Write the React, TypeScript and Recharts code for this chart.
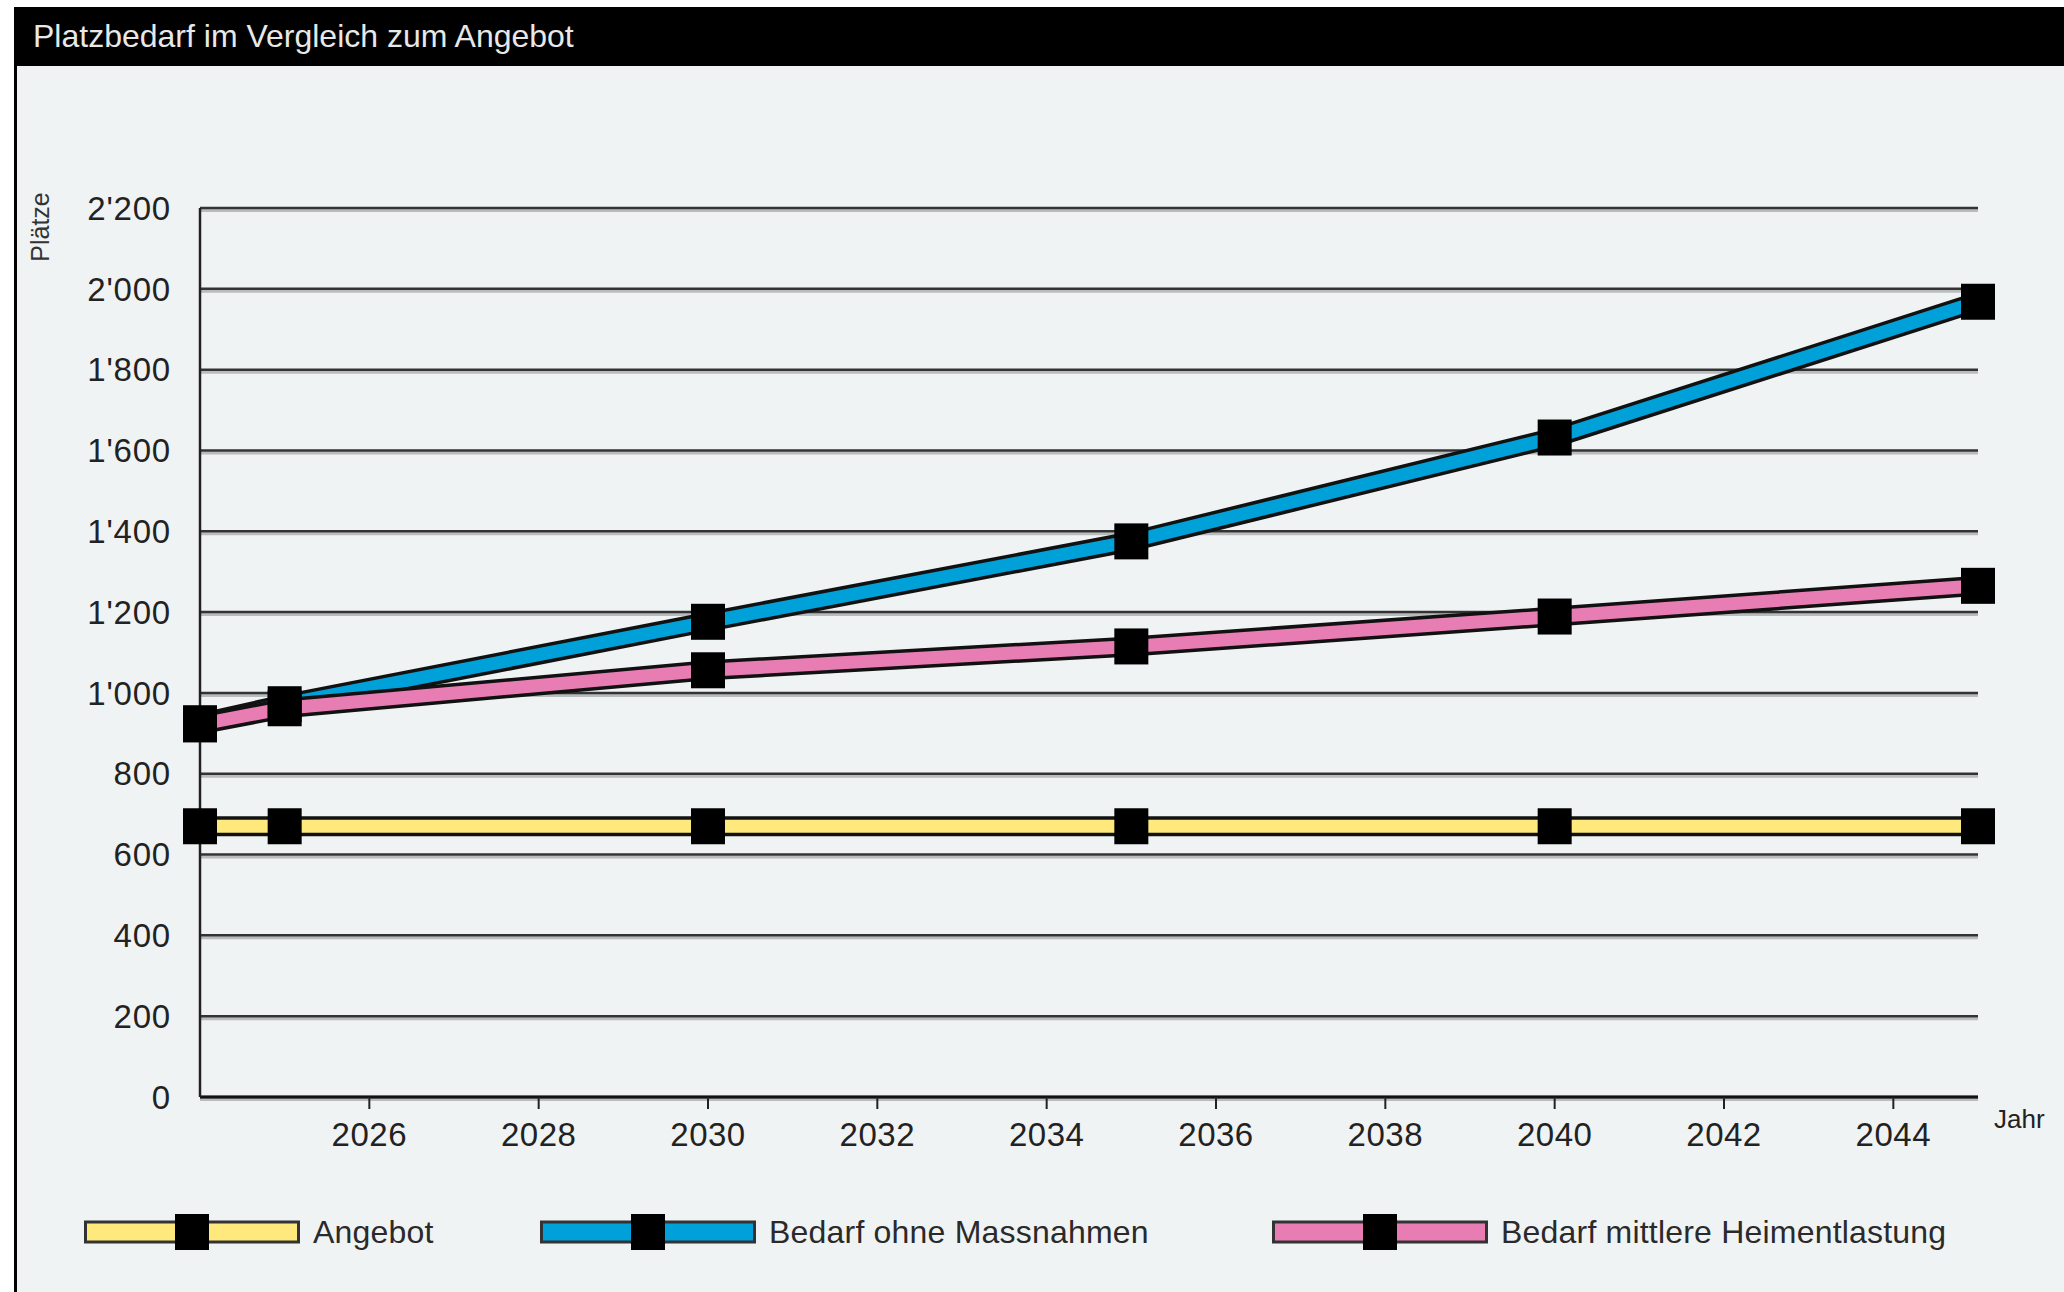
import React from "react";
import {
  LineChart,
  Line,
  XAxis,
  YAxis,
  CartesianGrid,
  Legend,
  Label
} from "recharts";

// values
const years = [2024, 2025, 2030, 2035, 2040, 2045];
const angebot = [670, 670, 670, 670, 670, 670];
const ohneMassnahmen = [925, 972, 1176, 1375, 1632, 1968];
const mittlereEntlastung = [922, 962, 1056, 1115, 1189, 1265];

const xTicks = [2026, 2028, 2030, 2032, 2034, 2036, 2038, 2040, 2042, 2044];
const yTicks = [0, 200, 400, 600, 800, 1000, 1200, 1400, 1600, 1800, 2000, 2200];

const seriesKeys = ["angebot", "ohne", "mittel"];
const seriesNames = ["Angebot", "Bedarf ohne Massnahmen", "Bedarf mittlere Heimentlastung"];
const seriesColors = ["#ffe97c", "#00a0d8", "#e87db4"];

const data = years.map((year, i) => ({
  year,
  angebot: angebot[i],
  ohne: ohneMassnahmen[i],
  mittel: mittlereEntlastung[i]
}));

const FONT = "'Liberation Sans', Arial, sans-serif";

const fmt = (v: number) =>
  v >= 1000 ? `${Math.floor(v / 1000)}'${String(v % 1000).padStart(3, "0")}` : String(v);

const SquareDot = (props: any) => {
  const { cx, cy, index } = props;
  if (cx == null || cy == null) return <g key={index} />;
  return <rect key={index} x={cx - 17} y={cy - 18} width={34} height={36} fill="#000" />;
};

const GridLine = (props: any) => {
  const { x1, x2, y1, index } = props;
  return (
    <g key={`g-${index}-${y1}`}>
      <line x1={x1} x2={x2} y1={y1 + 2.5} y2={y1 + 2.5} stroke="#b8bcbd" strokeWidth={3} />
      <line x1={x1} x2={x2} y1={y1} y2={y1} stroke="#333" strokeWidth={2.5} />
    </g>
  );
};

const itemWidths = [456, 732, undefined];

const LegendRow = () => (
  <div style={{ display: "flex", alignItems: "center", paddingLeft: 84, height: 56 }}>
    {seriesNames.map((name, i) => (
      <div key={name} style={{ display: "flex", alignItems: "center", width: itemWidths[i] }}>
        <svg width={216} height={40} style={{ display: "block" }}>
          <rect x={1.5} y={10} width={213} height={20} fill={seriesColors[i]} stroke="#333" strokeWidth={3} />
          <rect x={91} y={2} width={34} height={36} fill="#000" />
        </svg>
        <span style={{ marginLeft: 13, fontSize: 32, fontFamily: FONT, color: "#2a2a2a", letterSpacing: 0.2 }}>{name}</span>
      </div>
    ))}
  </div>
);

export default function App() {
  return (
    <div style={{ position: "absolute", left: 0, top: 0, width: 2064, height: 1292, background: "#fff", overflow: "hidden" }}>
      <div style={{ position: "absolute", left: 14, top: 66, width: 2050, height: 1226, background: "#f0f3f4" }} />
      <div style={{ position: "absolute", left: 14, top: 7, width: 3, height: 1285, background: "#000" }} />
      <div
        style={{
          position: "absolute",
          left: 14,
          top: 7,
          width: 2050,
          height: 59,
          background: "#000",
          color: "#e8e8e8",
          fontFamily: FONT,
          fontSize: 32,
          lineHeight: "59px",
          paddingLeft: 19,
          boxSizing: "border-box"
        }}
      >
        Platzbedarf im Vergleich zum Angebot
      </div>

      <div style={{ position: "absolute", left: 0, top: 0 }}>
        <LineChart
          width={2064}
          height={1292}
          data={data}
          margin={{ top: 208, right: 86, bottom: 135, left: 80 }}
        >
          <CartesianGrid vertical={false} horizontal={GridLine} />
          <XAxis
            dataKey="year"
            type="number"
            domain={[2024, 2045]}
            ticks={xTicks}
            height={60}
            axisLine={{ stroke: "#111", strokeWidth: 3 }}
            tickLine={{ stroke: "#222", strokeWidth: 2 }}
            tickSize={12}
            tickMargin={14}
            tick={{ fontSize: 33, fill: "#222", fontFamily: FONT, letterSpacing: 0.5 }}
          >
            <Label
              value="Jahr"
              position="right"
              offset={16}
              style={{ fontSize: 26, fill: "#222", fontFamily: FONT }}
              dy={-8}
            />
          </XAxis>
          <YAxis
            type="number"
            domain={[0, 2200]}
            ticks={yTicks}
            width={120}
            tickFormatter={fmt}
            axisLine={{ stroke: "#222", strokeWidth: 2.5 }}
            tickLine={false}
            tickSize={0}
            tickMargin={29}
            tick={{ fontSize: 33, fill: "#222", fontFamily: FONT, letterSpacing: 0.8 }}
          >
            <Label
              content={(p: any) => {
                const vb = p.viewBox || { x: 80 };
                const x = vb.x - 40;
                const y = 227;
                return (
                  <text
                    x={x}
                    y={y}
                    transform={`rotate(-90, ${x}, ${y})`}
                    textAnchor="middle"
                    dominantBaseline="central"
                    style={{ fontSize: 25, fill: "#333", fontFamily: FONT }}
                  >
                    Plätze
                  </text>
                );
              }}
            />
          </YAxis>

          {seriesKeys.map((key, i) => [
            <Line
              key={`${key}-outline`}
              dataKey={key}
              type="linear"
              stroke="#111"
              strokeWidth={20}
              dot={false}
              activeDot={false}
              legendType="none"
              isAnimationActive={false}
            />,
            <Line
              key={`${key}-fill`}
              dataKey={key}
              name={seriesNames[i]}
              type="linear"
              stroke={seriesColors[i]}
              strokeWidth={13}
              dot={false}
              activeDot={false}
              isAnimationActive={false}
            />
          ])}
          {seriesKeys.map((key) => (
            <Line
              key={`${key}-dots`}
              dataKey={key}
              type="linear"
              stroke="none"
              dot={SquareDot}
              activeDot={false}
              legendType="none"
              isAnimationActive={false}
            />
          ))}

          <Legend
            layout="horizontal"
            verticalAlign="middle"
            align="center"
            wrapperStyle={{ top: 1204, left: 0, width: 2064, height: 56 }}
            content={() => <LegendRow />}
          />
        </LineChart>
      </div>
    </div>
  );
}
